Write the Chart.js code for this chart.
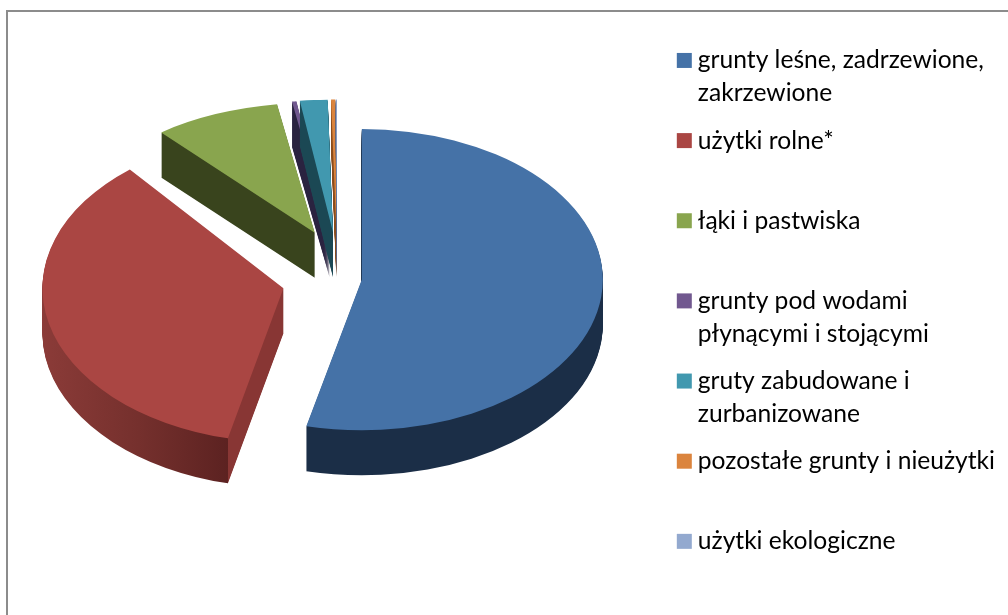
<!DOCTYPE html>
<html>
<head>
<meta charset="utf-8">
<title>Struktura gruntów</title>
<script src="https://cdn.jsdelivr.net/npm/chart.js@4"></script>
<style>
  html, body { margin: 0; padding: 0; background: #fff; overflow: hidden; }
  #frame { position: absolute; left: 6px; top: 10px; width: 1002px; height: 605px;
           border-left: 2px solid #8c8c8c; border-top: 2px solid #8c8c8c; box-sizing: border-box; }
  canvas { position: absolute; left: 0; top: 0; }
</style>
</head>
<body>
<div id="frame"></div>
<canvas id="chart" width="1008" height="615"></canvas>
<script>
// legend text, one array per entry; the empty line keeps the 80px legend rhythm
const categories = [
  ["grunty leśne, zadrzewione,", "zakrzewione"],
  ["użytki rolne*", ""],
  ["łąki i pastwiska", ""],
  ["grunty pod wodami", "płynącymi i stojącymi"],
  ["gruty zabudowane i", "zurbanizowane"],
  ["pozostałe grunty i nieużytki", ""],
  ["użytki ekologiczne", ""],
];
const shares = [53.7, 35.3, 8.5, 0.3, 1.85, 0.28, 0.07];

const topColors = ["#4572a7", "#aa4643", "#89a54e", "#71588f", "#4198af", "#db843d", "#93a9cf"];

// fake 3D look
const pieCenterX = 337;
const pieCenterY = 277;
const explode = [25, 55, 54, 50, 50, 50, 50];
const squash = [0.625, 0.64, 0.54, 0.55, 0.55, 0.55, 0.55];
const depth = 45;
const liftY = 0.9;
const drawOrder = [2, 3, 4, 5, 6, 1, 0];
// wall gradient stops, measured across the pie's width
const wallStops = [
  [[0, "#2d4a6f"], [0.1, "#203650"], [0.3, "#1b2e47"], [1, "#1b2e47"]],
  [[0, "#8b3b38"], [0.2, "#75302d"], [0.386, "#5c2221"], [0.386, "#883634"], [1, "#883634"]],
  [[0, "#39441d"], [1, "#39441d"]],
  [[0, "#2a2340"], [1, "#2a2340"]],
  [[0, "#1b4854"], [1, "#1b4854"]],
  [[0, "#8a4c1c"], [1, "#8a4c1c"]],
  [[0, "#55658a"], [1, "#55658a"]],
];

function placeSlice(ctx, arc, i, drop) {
  const mid = (arc.startAngle + arc.endAngle) / 2;
  const x = pieCenterX + Math.cos(mid) * explode[i];
  const y = pieCenterY + Math.sin(mid) * explode[i] * liftY + drop;
  ctx.translate(x, y);
  ctx.scale(1, squash[i]);
  ctx.translate(-arc.x, -arc.y);
}

const pie3d = {
  id: "pie3d",
  beforeDatasetsDraw(chart) {
    const ctx = chart.ctx;
    const arcs = chart.getDatasetMeta(0).data;
    drawOrder.forEach(function (i) {
      const arc = arcs[i];
      const base = arc.options;
      // walls: the same arc stacked downwards
      const grad = ctx.createLinearGradient(arc.x - arc.outerRadius, 0, arc.x + arc.outerRadius, 0);
      wallStops[i].forEach(function (s) { grad.addColorStop(s[0], s[1]); });
      const wall = Object.create(base);
      wall.backgroundColor = grad;
      arc.options = wall;
      for (let d = depth; d > 0; d--) {
        ctx.save();
        placeSlice(ctx, arc, i, d);
        arc.draw(ctx);
        ctx.restore();
      }
      // top face
      arc.options = base;
      ctx.save();
      placeSlice(ctx, arc, i, 0);
      arc.draw(ctx);
      ctx.restore();
    });
    return false;
  },
};

new Chart(document.getElementById("chart"), {
  type: "pie",
  data: {
    labels: categories,
    datasets: [{
      data: shares,
      backgroundColor: topColors,
      borderWidth: 0,
      radius: 241,
    }],
  },
  plugins: [pie3d],
  options: {
    responsive: false,
    animation: false,
    events: [],
    layout: { padding: { top: 34, right: 3 } },
    plugins: {
      tooltip: { enabled: false },
      legend: {
        position: "right",
        align: "start",
        labels: {
          color: "#000",
          font: { family: "Lato", size: 24.6, lineHeight: 33 / 24.6 },
          padding: 14.15,
          boxWidth: 2.4,
          boxHeight: 2.4,
          generateLabels(chart) {
            // thick same-colour outline gives a 15px swatch close to the text
            const items = Chart.overrides.pie.plugins.legend.labels.generateLabels(chart);
            items.forEach(function (item) {
              item.strokeStyle = item.fillStyle;
              item.lineWidth = 12.6;
            });
            return items;
          },
        },
      },
    },
  },
});
</script>
</body>
</html>
